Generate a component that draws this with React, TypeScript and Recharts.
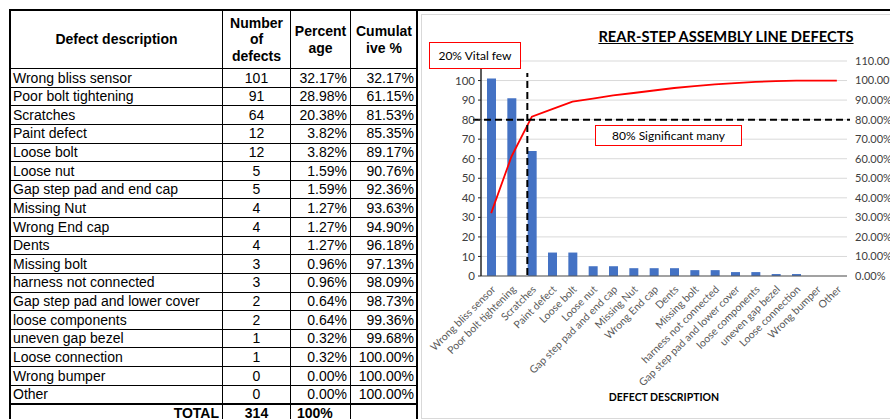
import { ComposedChart, Bar, Line, XAxis, YAxis, CartesianGrid, ReferenceLine } from 'recharts'

const DEFECTS = [
  'Wrong bliss sensor', 'Poor bolt tightening', 'Scratches', 'Paint defect', 'Loose bolt',
  'Loose nut', 'Gap step pad and end cap', 'Missing Nut', 'Wrong End cap', 'Dents',
  'Missing bolt', 'harness not connected', 'Gap step pad and lower cover', 'loose components',
  'uneven gap bezel', 'Loose connection', 'Wrong bumper', 'Other',
]
const COUNTS = [101, 91, 64, 12, 12, 5, 5, 4, 4, 4, 3, 3, 2, 2, 1, 1, 0, 0]
const PERCENT = [32.17, 28.98, 20.38, 3.82, 3.82, 1.59, 1.59, 1.27, 1.27, 1.27, 0.96, 0.96, 0.64, 0.64, 0.32, 0.32, 0, 0]
const CUMULATIVE = [32.17, 61.15, 81.53, 85.35, 89.17, 90.76, 92.36, 93.63, 94.9, 96.18, 97.13, 98.09, 98.73, 99.36, 99.68, 100, 100, 100]
const TOTAL_COUNT = 314
const TOTAL_PERCENT = '100%'
const HEADERS = ['Defect description', 'Number\nof\ndefects', 'Percent\nage', 'Cumulat\nive %']
const LEFT_TICKS = [0, 10, 20, 30, 40, 50, 60, 70, 80, 90, 100, 110]
const RIGHT_TICKS = [0, 10, 20, 30, 40, 50, 60, 70, 80, 90, 100, 110]
const VITAL_CATEGORY = 'Scratches'
const SIGNIFICANT_LEVEL = 80

const data = DEFECTS.map((name, i) => ({ name, count: COUNTS[i], cum: CUMULATIVE[i] }))

const CHART_FONT = 'Lato, "Open Sans", sans-serif'
const TABLE_FONT = '"Liberation Sans", Arial, sans-serif'

// table geometry
const COL_X = [10, 222, 290, 350, 417]
const HEAD_TOP = 10
const HEAD_BOTTOM = 68
const ROW_H = 18.63

function Cell({ c, y0, y1, align = 'center', bold = false, text }: any) {
  const x0 = COL_X[c]
  const x1 = COL_X[c + 1]
  return (
    <div style={{
      position: 'absolute', left: x0, top: y0, width: x1 - x0 + 1, height: y1 - y0 + 1,
      border: '1px solid #000', boxSizing: 'border-box',
      display: 'flex', alignItems: 'center',
      justifyContent: align === 'left' ? 'flex-start' : align === 'right' ? 'flex-end' : 'center',
      padding: align === 'left' ? '0 0 0 2px' : align === 'right' ? '0 3px 0 0' : 0,
      fontSize: 14, lineHeight: '16.5px', fontWeight: bold ? 700 : 400,
      whiteSpace: 'pre', textAlign: 'center', color: '#000',
    }}>
      {text}
    </div>
  )
}

function DefectTable() {
  const totalTop = HEAD_BOTTOM + DEFECTS.length * ROW_H
  return (
    <>
      {HEADERS.map((h, c) => (
        <Cell key={h} c={c} y0={HEAD_TOP} y1={HEAD_BOTTOM} bold text={h} />
      ))}
      {DEFECTS.map((d, i) => {
        const y0 = HEAD_BOTTOM + i * ROW_H
        const y1 = y0 + ROW_H
        return (
          <div key={d}>
            <Cell c={0} y0={y0} y1={y1} align="left" text={d} />
            <Cell c={1} y0={y0} y1={y1} text={String(COUNTS[i])} />
            <Cell c={2} y0={y0} y1={y1} align="right" text={`${PERCENT[i].toFixed(2)}%`} />
            <Cell c={3} y0={y0} y1={y1} align="right" text={`${CUMULATIVE[i].toFixed(2)}%`} />
          </div>
        )
      })}
      <Cell c={0} y0={totalTop} y1={totalTop + ROW_H} align="right" bold text="TOTAL" />
      <Cell c={1} y0={totalTop} y1={totalTop + ROW_H} bold text={String(TOTAL_COUNT)} />
      <Cell c={2} y0={totalTop} y1={totalTop + ROW_H} align="left" bold text={` ${TOTAL_PERCENT}`} />
      <Cell c={3} y0={totalTop} y1={totalTop + ROW_H} text="" />
      <div style={{ position: 'absolute', left: 9, top: totalTop - 0.5, width: 409, height: 2, background: '#000' }} />
      <div style={{
        position: 'absolute', left: 9, top: 9, width: 409, height: 420,
        border: '2px solid #000', boxSizing: 'border-box',
      }} />
    </>
  )
}

function AngledTick({ x, y, payload }: any) {
  return (
    <text
      x={x + 5}
      y={y + 6}
      transform={`rotate(-45, ${x + 5}, ${y + 6})`}
      textAnchor="end"
      fontSize={10.5}
      fontFamily={CHART_FONT}
      fill="#595959"
    >
      {payload.value}
    </text>
  )
}

const VitalLine = (p: any) => (
  <line x1={p.x1 - 4.5} x2={p.x2 - 4.5} y1={p.y1 - 1} y2={p.y2 + 12}
    stroke="#000" strokeWidth={2} strokeDasharray="7 4" />
)
const SignificantLine = (p: any) => (
  <line x1={p.x1 - 8} x2={p.x2 + 3} y1={p.y1} y2={p.y2}
    stroke="#000" strokeWidth={2} strokeDasharray="7 4" />
)

export default function App() {
  return (
    <div style={{
      position: 'absolute', left: 0, top: 0, width: 890, height: 419,
      background: '#fff', overflow: 'hidden', fontFamily: TABLE_FONT,
    }}>
      <DefectTable />
      <div style={{ position: 'absolute', left: 9, top: 9, width: 881, height: 2, background: '#000' }} />

      <div style={{
        position: 'absolute', left: 421, top: 14, width: 480, height: 405,
        border: '1px solid #d9d9d9', boxSizing: 'border-box', background: '#fff',
      }}>
        <ComposedChart
          width={468}
          height={403}
          data={data}
          margin={{ top: 46, right: 0, left: 0, bottom: 0 }}
          style={{ fontFamily: CHART_FONT }}
        >
          <CartesianGrid yAxisId="left" vertical={false} stroke="#d9d9d9" strokeWidth={1} />
          <XAxis
            dataKey="name"
            interval={0}
            height={142}
            tickLine={false}
            axisLine={{ stroke: '#595959', strokeWidth: 1 }}
            tick={<AngledTick />}
            label={{
              value: 'DEFECT DESCRIPTION', position: 'insideBottom', offset: 17,
              style: { fontSize: 10.5, fontWeight: 700, fill: '#000', fontFamily: CHART_FONT },
            }}
          />
          <YAxis
            yAxisId="left"
            width={59}
            domain={[0, 110]}
            ticks={LEFT_TICKS}
            interval={0}
            tickSize={3}
            tickMargin={3}
            tickFormatter={(v: number) => (v > 100 ? '' : String(v))}
            axisLine={{ stroke: '#262626', strokeWidth: 1.5 }}
            tickLine={{ stroke: '#262626' }}
            tick={{ fontSize: 11.5, fill: '#404040', fontFamily: CHART_FONT }}
          />
          <YAxis
            yAxisId="right"
            orientation="right"
            width={43}
            domain={[0, 110]}
            ticks={RIGHT_TICKS}
            interval={0}
            axisLine={false}
            tickLine={false}
            tickFormatter={(v: number) => `${v.toFixed(2)}%`}
            tick={{ fontSize: 11, fill: '#404040', fontFamily: CHART_FONT, textAnchor: 'start' }}
          />
          <Bar yAxisId="left" dataKey="count" fill="#4472C4" barSize={9} isAnimationActive={false} />
          <Line
            yAxisId="right"
            type="linear"
            dataKey="cum"
            stroke="#FF0000"
            strokeWidth={1.8}
            dot={false}
            activeDot={false}
            isAnimationActive={false}
          />
          <ReferenceLine yAxisId="left" x={VITAL_CATEGORY} shape={VitalLine} />
          <ReferenceLine yAxisId="left" y={SIGNIFICANT_LEVEL} shape={SignificantLine} />
        </ComposedChart>
      </div>

      <div style={{
        position: 'absolute', left: 585, top: 27, width: 282, textAlign: 'center',
        fontFamily: CHART_FONT, fontSize: 14.7, fontWeight: 700, lineHeight: '18px',
        textDecoration: 'underline', color: '#000',
      }}>
        REAR-STEP ASSEMBLY LINE DEFECTS
      </div>

      <div style={{
        position: 'absolute', left: 429, top: 42, width: 92, height: 27,
        border: '1.5px solid #ff0000', boxSizing: 'border-box', background: '#fff',
        display: 'flex', alignItems: 'center', justifyContent: 'center',
        fontFamily: CHART_FONT, fontSize: 12, color: '#000',
      }}>
        20% Vital few
      </div>
      <div style={{
        position: 'absolute', left: 595, top: 125, width: 147, height: 21,
        border: '1.5px solid #ff0000', boxSizing: 'border-box', background: '#fff',
        display: 'flex', alignItems: 'center', justifyContent: 'center',
        fontFamily: CHART_FONT, fontSize: 12, color: '#000',
      }}>
        80% Significant many
      </div>
    </div>
  )
}
